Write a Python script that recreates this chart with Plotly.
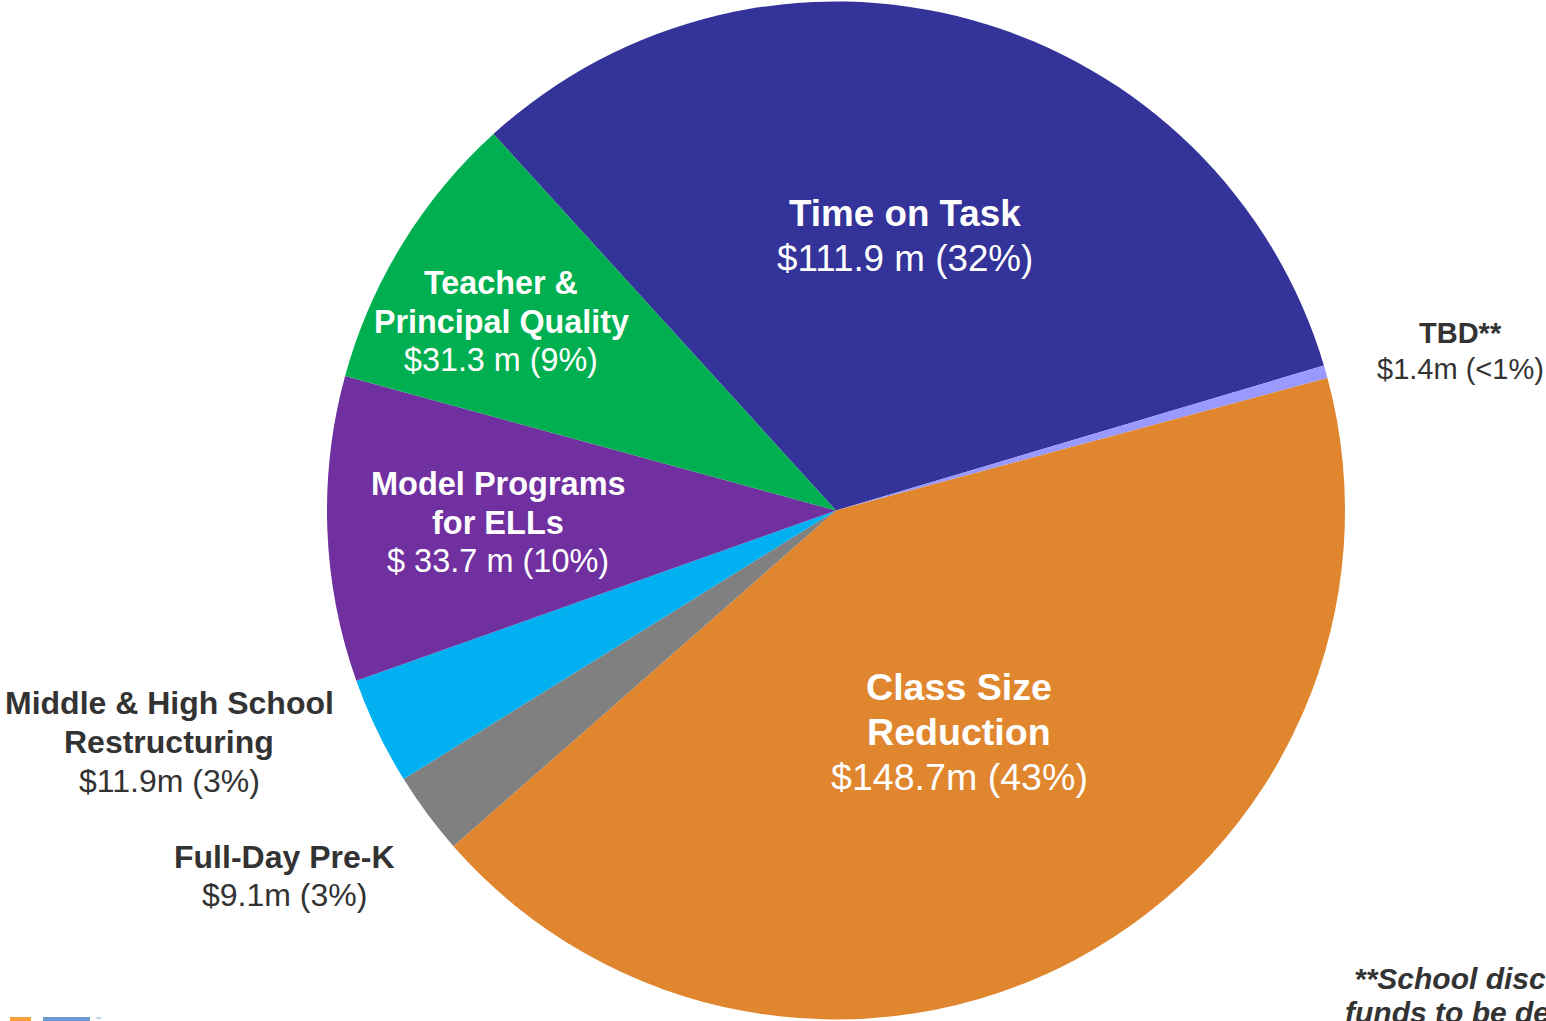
import plotly.graph_objects as go

W, H = 1546, 1021

# ---- data ----
categories = ["Time on Task", "TBD**", "Class Size Reduction", "Full-Day Pre-K",
              "Middle & High School Restructuring", "Model Programs for ELLs",
              "Teacher & Principal Quality"]
values = [111.9, 1.4, 148.7, 9.1, 11.9, 33.7, 31.3]
title_lines = [["Time on Task"], ["TBD**"], ["Class Size", "Reduction"], ["Full-Day Pre-K"],
               ["Middle & High School", "Restructuring"], ["Model Programs", "for ELLs"],
               ["Teacher &", "Principal Quality"]]
value_labels = ["$111.9 m (32%)", "$1.4m (<1%)", "$148.7m (43%)", "$9.1m (3%)",
                "$11.9m (3%)", "$ 33.7 m (10%)", "$31.3 m (9%)"]
footnote_lines = ["**School discretionary", "funds to be determined"]

# ---- styles / positions ----
colors = ["#333399", "#9999FF", "#E0862E", "#808080", "#00B0F0", "#7030A0", "#00B050"]
# label anchor: (center x px, first line y px, line spacing px, font size, color)
label_pos = [
    (905, 213, 45, 36.8, "white"),
    (1460, 333, 36, 29, "#333333"),
    (959, 687, 45, 37.6, "white"),
    (284, 857, 38, 32, "#333333"),
    (169, 703, 39, 32, "#333333"),
    (498, 484, 38.5, 32.5, "white"),
    (501, 283, 38.5, 32.3, "white"),
]

FONT = "Liberation Sans, Arial, sans-serif"

fig = go.Figure(go.Pie(
    labels=categories,
    values=values,
    sort=False,
    direction="clockwise",
    rotation=-42.3,
    marker=dict(colors=colors, line=dict(width=0)),
    textinfo="none",
    hoverinfo="label+value",
    showlegend=False,
    domain=dict(x=[327 / W, 1345 / W], y=[0, 1]),
))

def px(x, y):
    return x / W, 1 - y / H

annotations = []
for lines, val, (cx, y0, dy, fs, col) in zip(title_lines, value_labels, label_pos):
    all_lines = [(t, True) for t in lines] + [(val, False)]
    for i, (t, bold) in enumerate(all_lines):
        xx, yy = px(cx, y0 + i * dy)
        annotations.append(dict(
            x=xx, y=yy, xref="paper", yref="paper", xanchor="center", yanchor="middle",
            text=f"<b>{t}</b>" if bold else t, showarrow=False,
            font=dict(family=FONT, size=fs, color=col),
        ))

for t, (x0, y0) in zip(footnote_lines, [(1352, 978), (1343, 1012)]):
    xx, yy = px(x0, y0)
    annotations.append(dict(
        x=xx, y=yy, xref="paper", yref="paper", xanchor="left", yanchor="middle",
        text=f"<b><i>{t}</i></b>", showarrow=False,
        font=dict(family=FONT, size=30, color="#333333"),
    ))

# small logo fragment at bottom left
shapes = [
    dict(type="rect", xref="paper", yref="paper", x0=10 / W, x1=31 / W, y0=0, y1=4 / H,
         fillcolor="#F7A23B", line=dict(width=0)),
    dict(type="rect", xref="paper", yref="paper", x0=43 / W, x1=90 / W, y0=0, y1=4 / H,
         fillcolor="#6C9BD2", line=dict(width=0)),
]
annotations.append(dict(x=93 / W, y=1 - 1019 / H, xref="paper", yref="paper",
                        xanchor="left", yanchor="middle", text="™", showarrow=False,
                        font=dict(family=FONT, size=6, color="#6C9BD2")))

fig.update_layout(
    width=W, height=H,
    margin=dict(l=0, r=0, t=0, b=0),
    paper_bgcolor="white", plot_bgcolor="white",
    annotations=annotations, shapes=shapes,
)

fig.write_html("out.html", config={"displayModeBar": False})

# remove default body margin so the figure sits at the page's top-left corner
with open("out.html", "r", encoding="utf-8") as f:
    html = f.read()
html = html.replace("<head>", "<head><style>html,body{margin:0;padding:0;overflow:hidden;}</style>", 1)
with open("out.html", "w", encoding="utf-8") as f:
    f.write(html)
